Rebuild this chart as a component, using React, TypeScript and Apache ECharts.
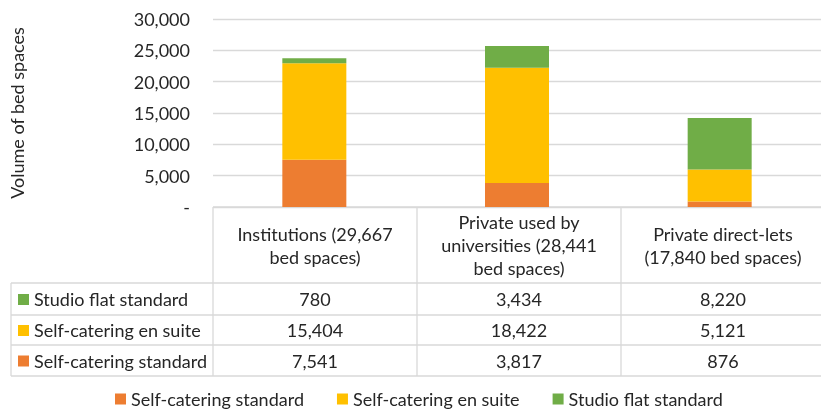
import React, { useEffect, useRef } from "react";
import * as echarts from "echarts";

const categories = [
  "Institutions (29,667\nbed spaces)",
  "Private used by\nuniversities (28,441\nbed spaces)",
  "Private direct-lets\n(17,840 bed spaces)",
];
const seriesNames = ["Self-catering standard", "Self-catering en suite", "Studio flat standard"];
const selfCateringStandard = [7541, 3817, 876];
const selfCateringEnSuite = [15404, 18422, 5121];
const studioFlatStandard = [780, 3434, 8220];
const yTicks = [0, 5000, 10000, 15000, 20000, 25000, 30000];
const colors = ["#ED7D31", "#FFC000", "#70AD47"];

const FONT = "Lato";
const FS = 18;
const TEXT = "#262626";
const LINE = "#D9D9D9";

export default function App() {
  const ref = useRef<HTMLDivElement>(null);
  useEffect(() => {
    if (!ref.current) return;
    const chart = echarts.init(ref.current, undefined, { renderer: "svg" });
    const gridLeft = 213;
    const gridTop = 19;
    const gridBottomY = 207;
    const gridWidth = 612;
    const colW = gridWidth / categories.length;
    const colEdges = categories.map((_, i) => gridLeft + i * colW);
    const tableLeft = 11;
    const rowYs = [283, 315, 345, 376];
    const rightX = 821;

    const seriesData = [selfCateringStandard, selfCateringEnSuite, studioFlatStandard];
    // table rows from top: studio, en suite, standard
    const tableOrder = [2, 1, 0];
    const fmt = (v: number) => v.toLocaleString("en-US");

    const graphics: any[] = [];
    const lineStyle = { stroke: LINE, lineWidth: 1.3 };
    graphics.push({ type: "line", shape: { x1: gridLeft, y1: gridBottomY, x2: rightX, y2: gridBottomY }, style: lineStyle, silent: true });
    rowYs.forEach((y) => {
      graphics.push({ type: "line", shape: { x1: tableLeft, y1: y, x2: rightX, y2: y }, style: lineStyle, silent: true });
    });
    graphics.push({ type: "line", shape: { x1: tableLeft, y1: rowYs[0], x2: tableLeft, y2: rowYs[3] }, style: lineStyle, silent: true });
    colEdges.forEach((x) => {
      graphics.push({ type: "line", shape: { x1: x, y1: gridBottomY, x2: x, y2: rowYs[3] }, style: lineStyle, silent: true });
    });
    categories.forEach((c, i) => {
      graphics.push({
        type: "text",
        x: colEdges[i] + colW / 2,
        y: (gridBottomY + rowYs[0]) / 2,
        silent: true,
        style: {
          text: c,
          fill: TEXT,
          font: `${FS}px ${FONT}`,
          align: "center",
          verticalAlign: "middle",
          lineHeight: 23,
        },
      });
    });
    tableOrder.forEach((si, r) => {
      const yc = (rowYs[r] + rowYs[r + 1]) / 2;
      graphics.push({ type: "rect", shape: { x: 18, y: yc - 5, width: 11, height: 11 }, style: { fill: colors[si] }, silent: true });
      graphics.push({
        type: "text",
        x: 34,
        y: yc,
        silent: true,
        style: { text: seriesNames[si], fill: TEXT, font: `${FS}px ${FONT}`, align: "left", verticalAlign: "middle" },
      });
      seriesData[si].forEach((v, i) => {
        graphics.push({
          type: "text",
          x: colEdges[i] + colW / 2,
          y: yc,
          silent: true,
          style: { text: fmt(v), fill: TEXT, font: `${FS}px ${FONT}`, align: "center", verticalAlign: "middle" },
        });
      });
    });

    chart.setOption({
      animation: false,
      textStyle: { fontFamily: FONT },
      grid: { left: gridLeft, top: gridTop, width: gridWidth, height: gridBottomY - gridTop },
      legend: {
        left: 110,
        top: 385,
        itemWidth: 11,
        itemHeight: 11,
        itemGap: 33,
        icon: "rect",
        textStyle: { fontFamily: FONT, fontSize: FS, color: TEXT },
        data: seriesNames,
      },
      xAxis: {
        type: "category",
        data: categories,
        axisLabel: { show: false },
        axisTick: { show: false },
        axisLine: { show: false },
      },
      yAxis: {
        type: "value",
        min: yTicks[0],
        max: yTicks[yTicks.length - 1],
        interval: 5000,
        name: "Volume of bed spaces",
        nameLocation: "middle",
        nameGap: 187,
        nameRotate: 90,
        nameTextStyle: { fontFamily: FONT, fontSize: FS, color: TEXT },
        axisLabel: {
          fontFamily: FONT,
          fontSize: FS,
          color: TEXT,
          margin: 23,
          formatter: (v: number) => (v === 0 ? "-" : fmt(v)),
        },
        splitLine: { lineStyle: { color: LINE, width: 1.3 } },
        axisLine: { show: false },
        axisTick: { show: false },
      },
      series: seriesNames.map((n, i) => ({
        name: n,
        type: "bar",
        stack: "total",
        barWidth: 64,
        data: seriesData[i],
        itemStyle: { color: colors[i] },
      })),
      graphic: graphics,
    });
    return () => chart.dispose();
  }, []);
  return <div ref={ref} style={{ position: "fixed", left: 0, top: 0, width: 821, height: 410 }} />;
}
